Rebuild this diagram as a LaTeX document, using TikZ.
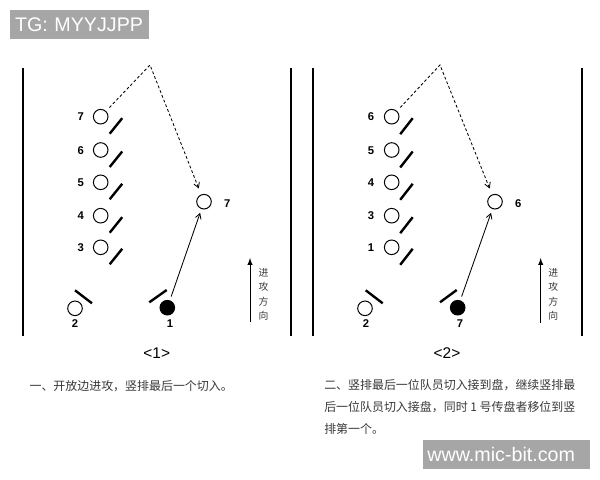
\documentclass[tikz,border=0pt]{standalone}
\usepackage{fontspec}
\setmainfont{Liberation Sans}
\setsansfont{Liberation Sans}
\newfontfamily\cjk{Noto Sans CJK SC}
\usetikzlibrary{arrows}
\definecolor{wmgray}{HTML}{A6A6A6}
\definecolor{captxt}{HTML}{383838}
\tikzset{
        plr_o/.style = {circle, draw=black, line width=0.7pt,
            minimum size=0.365cm, inner sep=0pt},
        plr_f/.style = {plr_o, fill=black},
        plr_n/.style = {inner sep=0pt, font=\sffamily\bfseries\fontsize{8}{9}\selectfont},
        mark_s/.style = {line width=1.7pt},
        side_l/.style = {line width=1.3pt},
        cut_r/.style = {->, >=angle 60, line width=0.6pt,
            shorten <=0.1cm, shorten >=0.1cm},
        cut_d/.style = {->, >=angle 60, line width=0.6pt, dash pattern=on 2pt off 1.6pt,
            shorten <=0.12cm, shorten >=0.16cm},
        dir_a/.style = {-latex, line width=0.7pt},
        dir_t/.style = {inner sep=0pt, align=center, text=captxt,
            font=\cjk\fontsize{7}{10.3}\selectfont},
        panel_t/.style = {inner sep=0pt, font=\sffamily\fontsize{11}{13}\selectfont},
        capt/.style = {inner sep=0pt, text=captxt, align=left,
            font=\cjk\fontsize{8.5}{15.6}\selectfont},
        wmark/.style = {fill=wmgray, text=white, anchor=north west, align=left,
            inner xsep=0.12cm, inner ysep=0pt, minimum height=0.73cm,
            font=\sffamily\fontsize{14}{16}\selectfont}
    }

\begin{document}
\begin{tikzpicture}[x=0.025cm, y=-0.025cm]
    \useasboundingbox (0,0) rectangle (600,480);

    % watermarks
    \node (tg) [wmark, text width=3.23cm] at (10,10) {TG: MYYJJPP};
    \node (www) [wmark, text width=3.95cm] at (422.3,440) {www.mic-bit.com};

    % panel <1>
    \draw[side_l] (22.7,68) -- (22.7,336);
    \draw[side_l] (291,68) -- (291,336);
    \node [plr_o] (a7) at (100.7,116.7) {};
    \node [plr_o] (a6) at (100.7,150) {};
    \node [plr_o] (a5) at (100.7,182.3) {};
    \node [plr_o] (a4) at (100.7,215.7) {};
    \node [plr_o] (a3) at (100.7,247.3) {};
    \node [plr_o] (a2) at (75,308.3) {};
    \node [plr_f] (a1) at (167.3,307.7) {};
    \node [plr_o] (at) at (204,201.7) {};
    \node [plr_n] (la7) at (80.7,117) {7};
    \node [plr_n] (la6) at (80.7,150.3) {6};
    \node [plr_n] (la5) at (80.7,182.6) {5};
    \node [plr_n] (la4) at (80.7,216) {4};
    \node [plr_n] (la3) at (80.7,247.6) {3};
    \node [plr_n] (la2) at (75,324) {2};
    \node [plr_n] (la1) at (170,324) {1};
    \node [plr_n] (lat) at (227.3,203.3) {7};
    \draw[mark_s] ([shift={(9,17)}]a7.center) -- ([shift={(21.5,1.5)}]a7.center);
    \draw[mark_s] ([shift={(9,17)}]a6.center) -- ([shift={(21.5,1.5)}]a6.center);
    \draw[mark_s] ([shift={(9,17)}]a5.center) -- ([shift={(21.5,1.5)}]a5.center);
    \draw[mark_s] ([shift={(9,17)}]a4.center) -- ([shift={(21.5,1.5)}]a4.center);
    \draw[mark_s] ([shift={(9,17)}]a3.center) -- ([shift={(21.5,1.5)}]a3.center);
    \draw[mark_s] ([shift={(0,-18)}]a2.center) -- ([shift={(17,-5)}]a2.center);
    \draw[mark_s] ([shift={(-18,-5.4)}]a1.center) -- ([shift={(-0.6,-17.7)}]a1.center);
    \coordinate (apx1) at (150,65);
    \draw[cut_d] (a7) -- (apx1) -- (at);
    \draw[cut_r] (a1) -- (at);
    \coordinate (d1a) at (250,322);
    \coordinate (d1b) at (250,258);
    \draw[dir_a] (d1a) -- (d1b);
    \node [dir_t] (dt1) at (263.5,294.5) {进\\攻\\方\\向};
    \node [panel_t] (p1) at (156.7,353.3) {<1>};
    \node [capt, anchor=west] (cap1) at (29.3,386.5) {一、开放边进攻，竖排最后一个切入。};

    % panel <2>
    \draw[side_l] (312.7,68) -- (312.7,336);
    \draw[side_l] (582.3,68) -- (582.3,336);
    \node [plr_o] (b6) at (391.7,116.7) {};
    \node [plr_o] (b5) at (391.7,150) {};
    \node [plr_o] (b4) at (391.7,182.3) {};
    \node [plr_o] (b3) at (391.7,215.7) {};
    \node [plr_o] (b1) at (391.7,247.3) {};
    \node [plr_o] (b2) at (365,308.3) {};
    \node [plr_f] (b7) at (457.7,307.7) {};
    \node [plr_o] (bt) at (495,201.7) {};
    \node [plr_n] (lb6) at (371,117) {6};
    \node [plr_n] (lb5) at (371,150.3) {5};
    \node [plr_n] (lb4) at (371,182.6) {4};
    \node [plr_n] (lb3) at (371,216) {3};
    \node [plr_n] (lb1) at (371,247.6) {1};
    \node [plr_n] (lb2) at (366,324) {2};
    \node [plr_n] (lb7) at (460,324) {7};
    \node [plr_n] (lbt) at (518.3,203.3) {6};
    \draw[mark_s] ([shift={(8.5,17.5)}]b6.center) -- ([shift={(21,1.5)}]b6.center);
    \draw[mark_s] ([shift={(8.5,17.5)}]b5.center) -- ([shift={(21,1.5)}]b5.center);
    \draw[mark_s] ([shift={(8.5,17.5)}]b4.center) -- ([shift={(21,1.5)}]b4.center);
    \draw[mark_s] ([shift={(8.5,17.5)}]b3.center) -- ([shift={(21,1.5)}]b3.center);
    \draw[mark_s] ([shift={(8.5,17.5)}]b1.center) -- ([shift={(21,1.5)}]b1.center);
    \draw[mark_s] ([shift={(0.7,-18)}]b2.center) -- ([shift={(17.7,-5)}]b2.center);
    \draw[mark_s] ([shift={(-17.7,-5.4)}]b7.center) -- ([shift={(-1,-17.7)}]b7.center);
    \coordinate (apx2) at (440,65);
    \draw[cut_d] (b6) -- (apx2) -- (bt);
    \draw[cut_r] (b7) -- (bt);
    \coordinate (d2a) at (540.7,323);
    \coordinate (d2b) at (540.7,258);
    \draw[dir_a] (d2a) -- (d2b);
    \node [dir_t] (dt2) at (553.3,294.5) {进\\攻\\方\\向};
    \node [panel_t] (p2) at (447,353.3) {<2>};
    \node [capt, anchor=north west] (cap2) at (324,379.5)
        {二、竖排最后一位队员切入接到盘，继续竖排最\\后一位队员切入接盘，同时 1 号传盘者移位到竖\\排第一个。};
\end{tikzpicture}
\end{document}
